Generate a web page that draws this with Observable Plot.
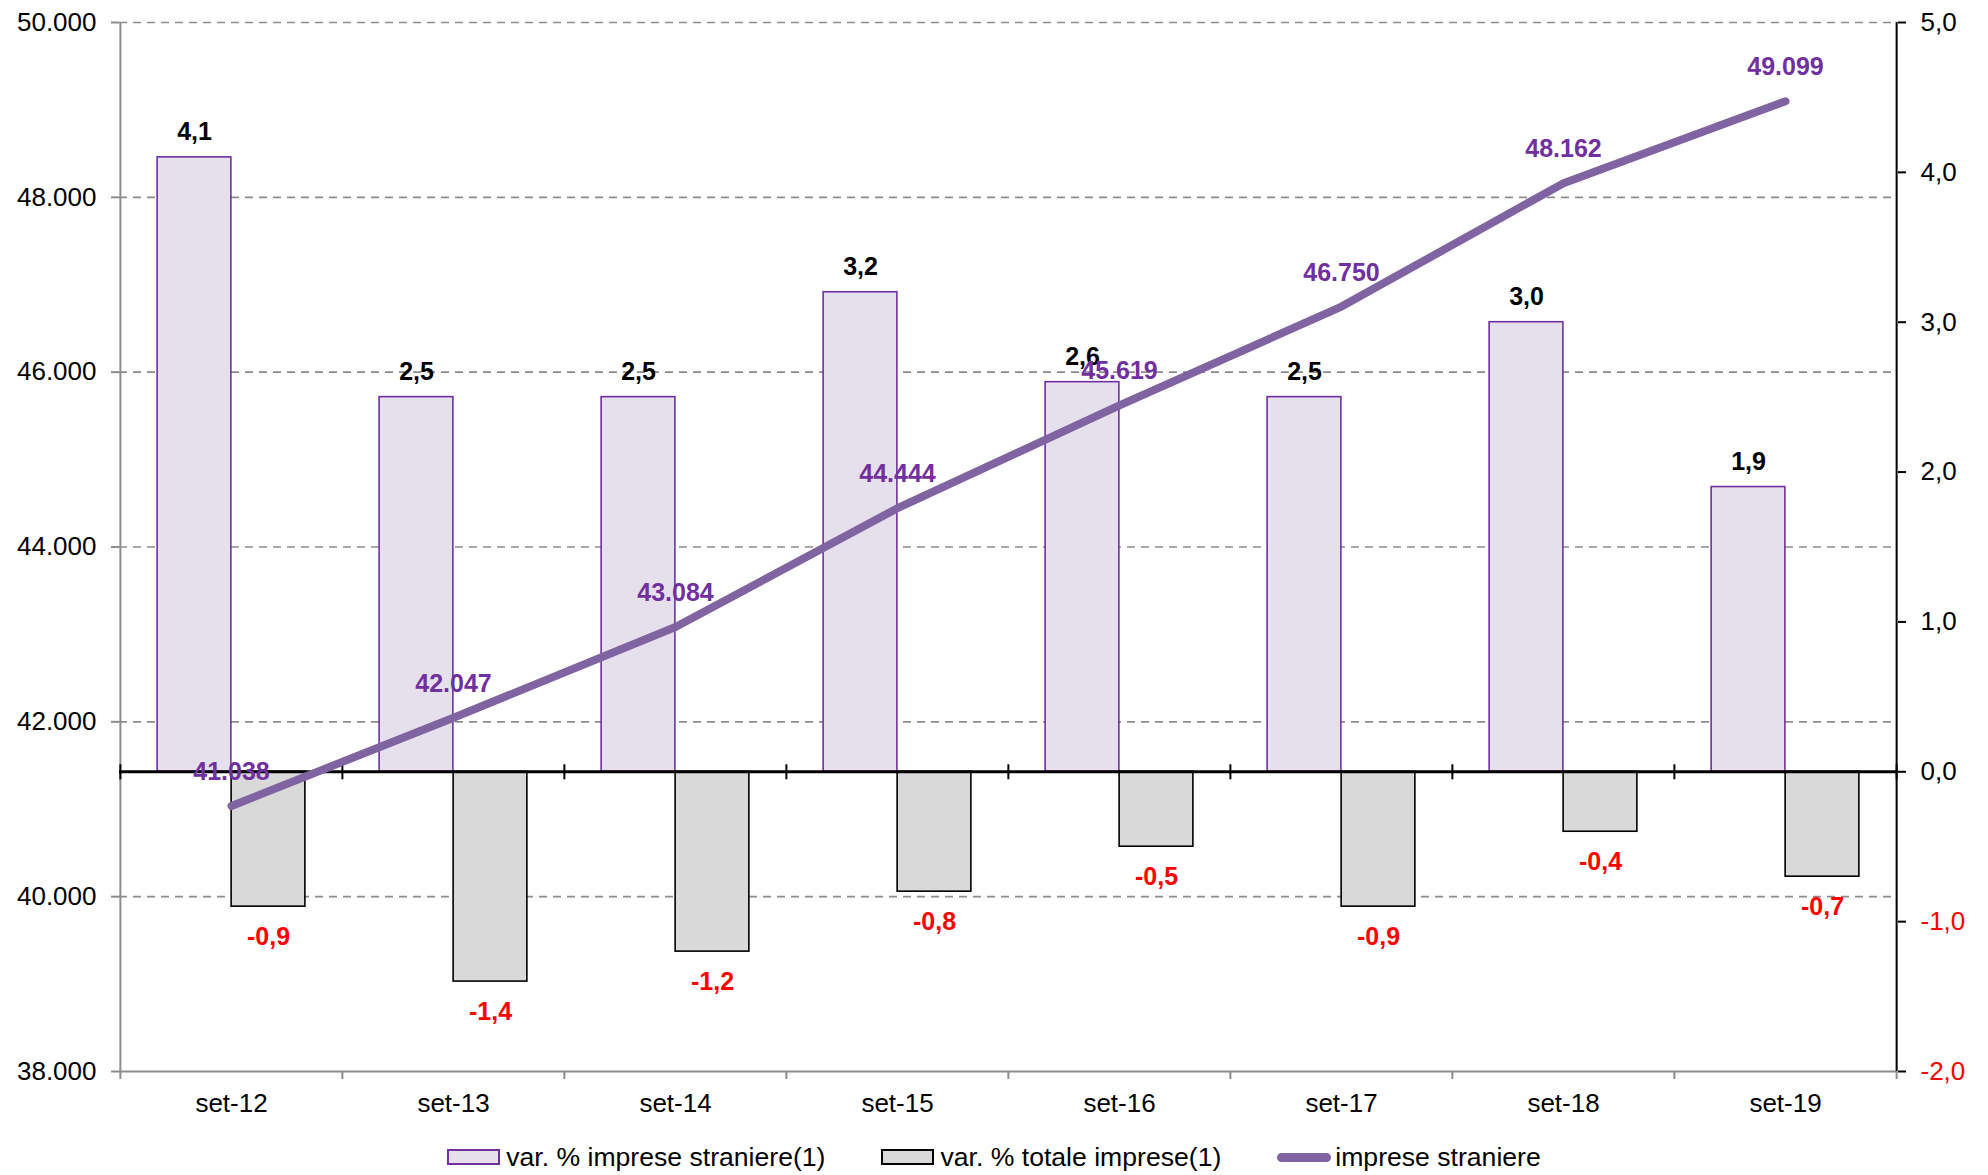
<!DOCTYPE html>
<html>
<head>
<meta charset="utf-8">
<script src="https://cdn.jsdelivr.net/npm/d3@7"></script>
<script src="https://cdn.jsdelivr.net/npm/@observablehq/plot@0.6"></script>
<style>
  html, body { margin: 0; padding: 0; background: #fff; overflow: hidden; }
  body { font-family: "Liberation Sans", Arial, sans-serif; }
  #legend { height: 64px; display: flex; align-items: center; justify-content: center; font-size: 26.6px; color: #000; }
  .item { display: flex; align-items: center; margin: 0 28px; }
  .sw { width: 49px; height: 12px; margin-right: 6px; }
  .ln { width: 54px; height: 9px; border-radius: 5px; background: #8064A2; margin-right: 4px; }
</style>
</head>
<body>
<div id="chart"></div>
<div id="legend">
  <div class="item"><div class="sw" style="background:#E6E0EC;border:2px solid #7030A0"></div><span>var. % imprese straniere(1)</span></div>
  <div class="item"><div class="sw" style="background:#D9D9D9;border:2px solid #000"></div><span>var. % totale imprese(1)</span></div>
  <div class="item"><div class="ln"></div><span>imprese straniere</span></div>
</div>
<script>
const categories = ["set-12", "set-13", "set-14", "set-15", "set-16", "set-17", "set-18", "set-19"];
const varStraniere = [4.1, 2.5, 2.5, 3.2, 2.6, 2.5, 3.0, 1.9];
const varTotale = [-0.9, -1.4, -1.2, -0.8, -0.5, -0.9, -0.4, -0.7];
const impreseStraniere = [41038, 42047, 43084, 44444, 45619, 46750, 48162, 49099];
const leftTicks = [38000, 40000, 42000, 44000, 46000, 48000, 50000];
const rightTicksBlack = [0, 1, 2, 3, 4, 5];
const rightTicksRed = [-2, -1];

// map left axis (38.000..50.000) onto right axis (-2..5)
const toPct = v => -2 + (v - 38000) * 7 / 12000;
const fromPct = p => 38000 + (p + 2) * 12000 / 7;

const fmtPct = v => d3.format(".1f")(v).replace(".", ",").replace("\u2212", "-");
const fmtThou = v => d3.format(",")(Math.round(v)).replace(/,/g, ".");

const data = categories.map((c, i) => ({cat: c, fore: varStraniere[i], tot: varTotale[i], imp: impreseStraniere[i]}));

const W = 1988, H = 1125, ML = 119, MR = 91, MT = 22, MB = 54;
const bw = (W - ML - MR) / categories.length;
const barW = 74;

const chart = Plot.plot({
  width: W,
  height: H,
  marginLeft: ML,
  marginRight: MR,
  marginTop: MT,
  marginBottom: MB,
  style: {fontFamily: '"Liberation Sans", Arial, sans-serif', fontSize: "26px", background: "#fff", overflow: "visible"},
  x: {type: "band", domain: categories, padding: 0},
  y: {domain: [-2, 5]},
  marks: [
    // gridlines
    Plot.ruleY(leftTicks.slice(1).map(toPct), {stroke: "#8c8c8c", strokeWidth: 1.6, strokeDasharray: "8,6"}),
    // bars
    Plot.barY(data, {x: "cat", y: "fore", fill: "#E6E0EC", stroke: "#7030A0", strokeWidth: 1.6, insetLeft: bw / 2 - barW, insetRight: bw / 2}),
    Plot.barY(data, {x: "cat", y: "tot", fill: "#D9D9D9", stroke: "#000", strokeWidth: 1.6, insetLeft: bw / 2, insetRight: bw / 2 - barW}),
    // bottom axis line
    Plot.ruleY([-2], {stroke: "#8c8c8c", strokeWidth: 2}),
    // bottom ticks at category boundaries
    Plot.ruleX(categories, {x: d => d, y1: -2, y2: -2, dx: -bw / 2, insetBottom: -8, stroke: "#8c8c8c", strokeWidth: 2}),
    Plot.ruleX([categories[categories.length - 1]], {x: d => d, y1: -2, y2: -2, dx: bw / 2, insetBottom: -8, stroke: "#8c8c8c", strokeWidth: 2}),
    // left axis line
    Plot.ruleX([categories[0]], {x: d => d, y1: -2, y2: 5, dx: -bw / 2, stroke: "#8c8c8c", strokeWidth: 2}),
    // right axis line
    Plot.ruleX([categories[categories.length - 1]], {x: d => d, y1: -2, y2: 5, dx: bw / 2, stroke: "#000", strokeWidth: 2}),
    // zero line
    Plot.ruleY([0], {stroke: "#000", strokeWidth: 3}),
    Plot.ruleX(categories, {x: d => d, y1: 0, y2: 0, dx: -bw / 2, insetTop: -7, insetBottom: -8, stroke: "#000", strokeWidth: 2}),
    Plot.ruleX([categories[categories.length - 1]], {x: d => d, y1: 0, y2: 0, dx: bw / 2, insetTop: -7, insetBottom: -8, stroke: "#000", strokeWidth: 2}),
    // axes
    Plot.axisY({anchor: "left", ticks: leftTicks.map(toPct), tickFormat: p => fmtThou(fromPct(p)), tickSize: 8, tickPadding: 15, stroke: "#8c8c8c", fill: "#000", strokeWidth: 2, fontSize: 26, label: null}),
    Plot.axisY({anchor: "right", ticks: rightTicksBlack, tickFormat: fmtPct, tickSize: 8, tickPadding: 15, stroke: "#000", fill: "#000", strokeWidth: 2, fontSize: 26, label: null}),
    Plot.axisY({anchor: "right", ticks: rightTicksRed, tickFormat: fmtPct, tickSize: 8, tickPadding: 15, stroke: "#000", fill: "#FF0000", strokeWidth: 2, fontSize: 26, label: null}),
    Plot.axisX({anchor: "bottom", tickSize: 0, tickPadding: 22, fontSize: 26, label: null, fill: "#000"}),
    // line
    Plot.lineY(data, {x: "cat", y: d => toPct(d.imp), stroke: "#8064A2", strokeWidth: 8, strokeLinecap: "round", strokeLinejoin: "round"}),
    // labels
    Plot.text(data, {x: "cat", y: "fore", text: d => fmtPct(d.fore), dx: -barW / 2, dy: -25, fill: "#000", fontWeight: "bold", fontSize: 25}),
    Plot.text(data, {x: "cat", y: "tot", text: d => fmtPct(d.tot), dx: barW / 2, dy: 30, fill: "#FF0000", fontWeight: "bold", fontSize: 25}),
    Plot.text(data, {x: "cat", y: d => toPct(d.imp), text: d => fmtThou(d.imp), dy: -34, fill: "#7030A0", fontWeight: "bold", fontSize: 25})
  ]
});
document.getElementById("chart").appendChild(chart);
</script>
</body>
</html>
